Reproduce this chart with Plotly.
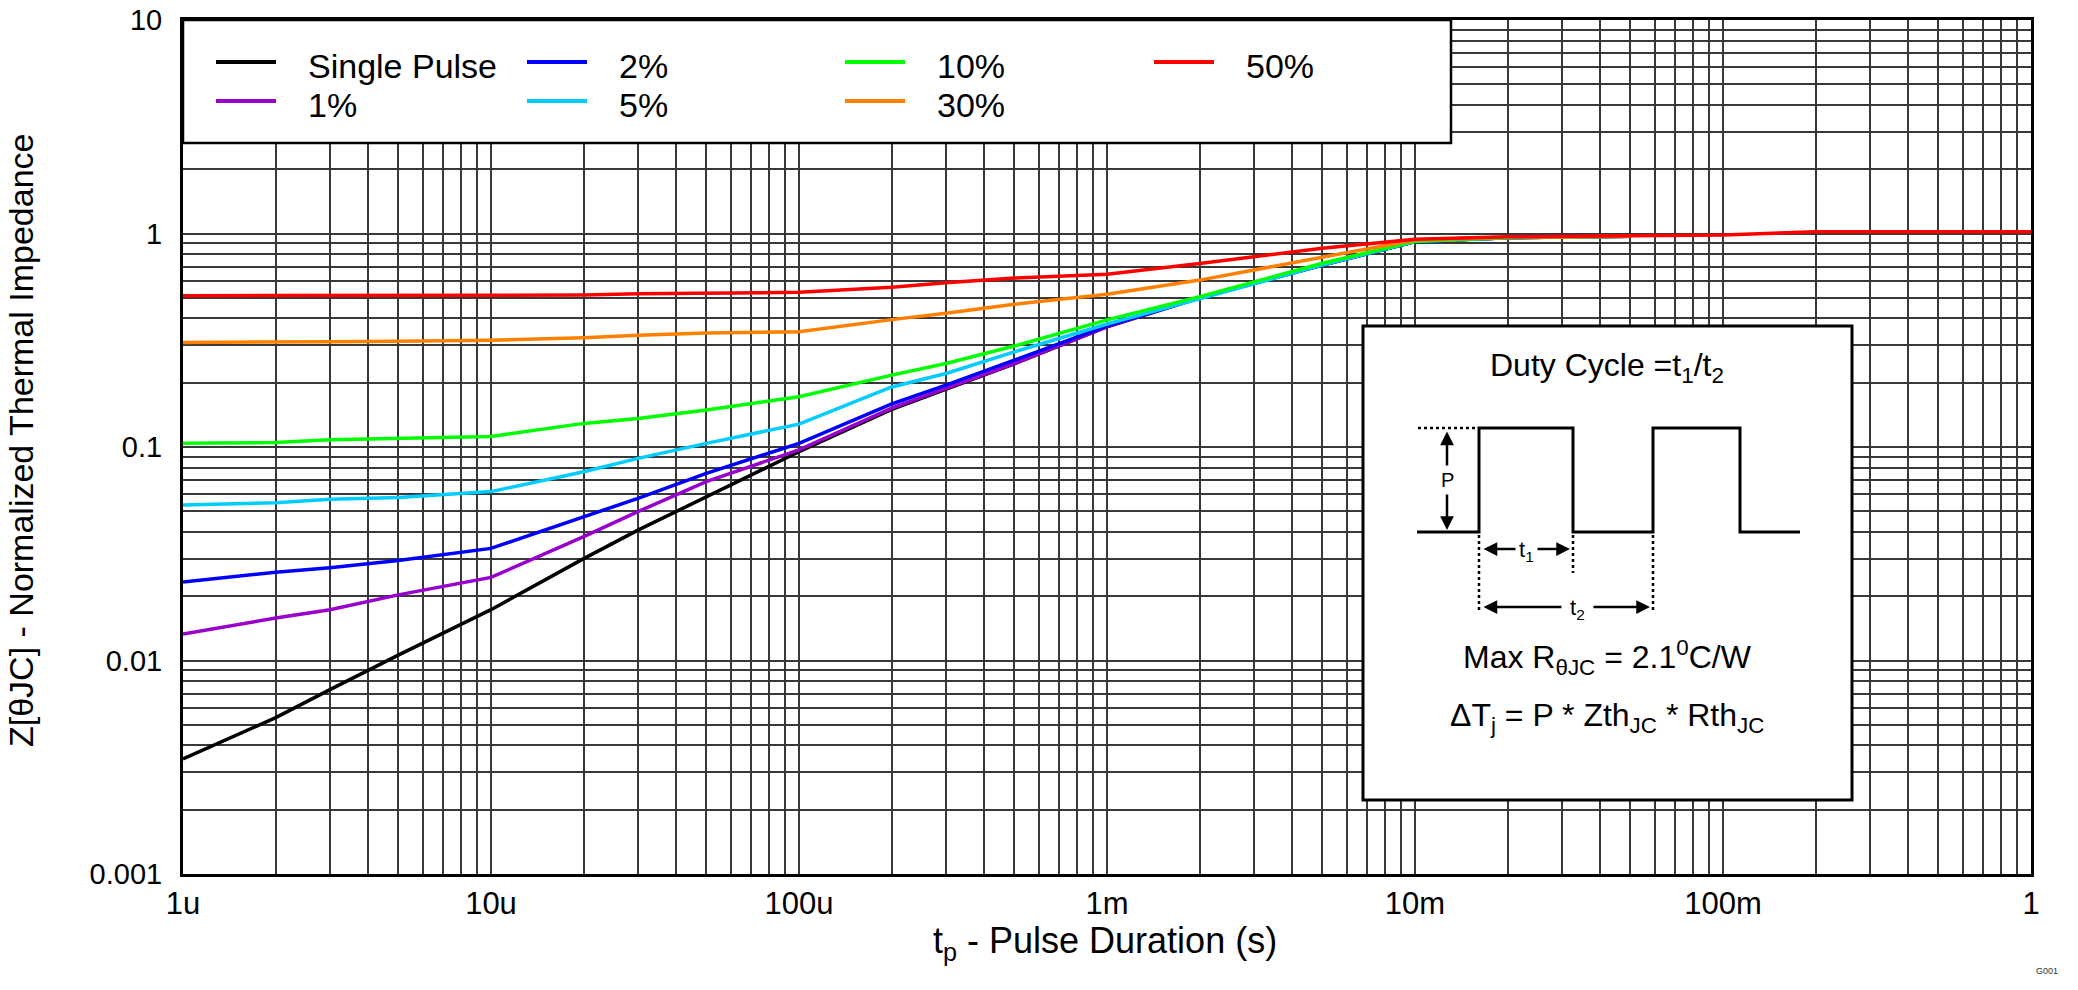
import plotly.graph_objects as go

# ---------------- data ----------------
t_s = [1e-6, 2e-6, 3e-6, 5e-6, 1e-5, 2e-5, 3e-5, 5e-5, 1e-4, 2e-4, 3e-4, 5e-4,
       1e-3, 2e-3, 3e-3, 5e-3, 1e-2, 2e-2, 5e-2]
t_red = t_s + [1e-1, 2e-1, 1.0]

z_single = [0.00346, 0.0054, 0.0073, 0.0106, 0.0173, 0.030, 0.0408, 0.0585, 0.095, 0.150, 0.186, 0.245,
            0.365, 0.50, 0.585, 0.711, 0.917, 0.955, 0.97]
z_1 = [0.0133, 0.0158, 0.0173, 0.0203, 0.0245, 0.038, 0.0498, 0.0689, 0.097, 0.152, 0.188, 0.246,
       0.366, 0.50, 0.585, 0.711, 0.917, 0.955, 0.97]
z_2 = [0.0233, 0.0259, 0.0272, 0.0294, 0.0335, 0.0472, 0.0575, 0.0753, 0.104, 0.159, 0.195, 0.255,
       0.369, 0.50, 0.585, 0.711, 0.917, 0.955, 0.97]
z_5 = [0.0535, 0.0548, 0.0569, 0.058, 0.0618, 0.0766, 0.0885, 0.104, 0.128, 0.191, 0.221, 0.279,
       0.377, 0.497, 0.585, 0.711, 0.917, 0.955, 0.97]
z_10 = [0.104, 0.105, 0.108, 0.110, 0.112, 0.129, 0.136, 0.149, 0.172, 0.217, 0.246, 0.297,
        0.394, 0.506, 0.594, 0.725, 0.92, 0.955, 0.97]
z_30 = [0.309, 0.309, 0.311, 0.313, 0.316, 0.325, 0.334, 0.342, 0.347, 0.395, 0.423, 0.466,
        0.519, 0.605, 0.675, 0.778, 0.933, 0.96, 0.972]
z_50 = [0.511, 0.511, 0.511, 0.511, 0.512, 0.515, 0.522, 0.525, 0.53, 0.56, 0.588, 0.618,
        0.645, 0.724, 0.778, 0.853, 0.94, 0.965, 0.975, 0.985, 1.02, 1.02]

series_names = ["Single Pulse", "1%", "2%", "5%", "10%", "30%", "50%"]
series_colors = ["#000000", "#9900CC", "#0000FF", "#00CCFF", "#00FF00", "#FF7F00", "#FF0000"]
series_x = [t_s, t_s, t_s, t_s, t_s, t_s, t_red]
series_y = [z_single, z_1, z_2, z_5, z_10, z_30, z_50]

x_decades = [1e-6, 1e-5, 1e-4, 1e-3, 1e-2, 1e-1, 1.0]
x_labels = ["1u", "10u", "100u", "1m", "10m", "100m", "1"]
y_decades = [0.001, 0.01, 0.1, 1, 10]
y_labels = ["0.001", "0.01", "0.1", "1", "10"]

# legend layout (rows as in the reference)
legend_rows = [["Single Pulse", "2%", "10%", "50%"], ["1%", "5%", "30%"]]

# ---------------- geometry (page pixels) ----------------
OFF = 8                      # default body margin of the html page
W, H = 2078 - 2 * OFF, 990 - 2 * OFF
L, R, T, B = 183, 2031, 20, 874
FONT = "Liberation Sans, Arial, sans-serif"


def px(x):
    return (x - L) / (R - L)


def py(y):
    return (B - y) / (B - T)


fig = go.Figure()
for name, col, xs, ys in zip(series_names, series_colors, series_x, series_y):
    fig.add_trace(go.Scatter(x=xs, y=ys, mode="lines", name=name,
                             line=dict(color=col, width=3.5), showlegend=False))


def log_ticks(decades, labels):
    vals, texts = [], []
    for i, (d, lab) in enumerate(zip(decades, labels)):
        vals.append(d)
        texts.append(lab)
        if i < len(decades) - 1:
            for k in range(2, 10):
                vals.append(d * k)
                texts.append("")
    return vals, texts


xv, xt = log_ticks(x_decades, x_labels)
yv, yt = log_ticks(y_decades, y_labels)

grid_col = "#383838"
fig.update_xaxes(type="log", range=[-6, 0], tickvals=xv, ticktext=xt, automargin=False,
                 showgrid=True, gridcolor=grid_col, gridwidth=2,
                 showline=True, linecolor="black", linewidth=3, mirror=True,
                 ticks="", ticklabelstandoff=0, zeroline=False, ticklabeloverflow="allow",
                 tickfont=dict(family=FONT, size=31, color="black"))
fig.update_yaxes(type="log", range=[-3, 1], tickvals=yv, ticktext=yt, automargin=False,
                 showgrid=True, gridcolor=grid_col, gridwidth=2,
                 showline=True, linecolor="black", linewidth=3, mirror=True,
                 ticks="", ticklabelstandoff=12, zeroline=False, ticklabeloverflow="allow",
                 tickfont=dict(family=FONT, size=29, color="black"))

shapes = []
annots = []


def text(x, y, s, size, xanchor="center", **kw):
    d = dict(xref="paper", yref="paper", x=px(x), y=py(y), text=s, showarrow=False,
             xanchor=xanchor, yanchor="middle", font=dict(family=FONT, size=size, color=kw.pop("color", "black")))
    d.update(kw)
    annots.append(d)


# legend box
shapes.append(dict(type="rect", xref="paper", yref="paper", x0=px(L), x1=px(1451), y0=py(143), y1=py(T),
                   fillcolor="white", line=dict(color="black", width=2.5), layer="above"))
col_text_x = [306, 617, 935, 1244]
row_y = [62, 101]
for r, row in enumerate(legend_rows):
    for c, nm in enumerate(row):
        col = series_colors[series_names.index(nm)]
        tx = col_text_x[c]
        shapes.append(dict(type="line", xref="paper", yref="paper", x0=px(tx - 90), x1=px(tx - 30),
                           y0=py(row_y[r]), y1=py(row_y[r]), line=dict(color=col, width=4), layer="above"))
        text(tx, row_y[r] + 4, nm, 34, xanchor="left")

# inset box
shapes.append(dict(type="rect", xref="paper", yref="paper", x0=px(1363), x1=px(1852), y0=py(800), y1=py(326),
                   fillcolor="white", line=dict(color="black", width=3), layer="above"))
wx = [1417, 1479, 1479, 1573, 1573, 1653, 1653, 1740, 1740, 1800]
wy = [532, 532, 428, 428, 532, 532, 428, 428, 532, 532]
path = "M " + " L ".join(f"{px(a):.5f},{py(b):.5f}" for a, b in zip(wx, wy))
shapes.append(dict(type="path", xref="paper", yref="paper", path=path,
                   line=dict(color="black", width=3), layer="above"))
for (x0, y0, x1, y1) in [(1418, 428, 1476, 428), (1479, 535, 1479, 613), (1573, 535, 1573, 573),
                         (1653, 535, 1653, 610)]:
    shapes.append(dict(type="line", xref="paper", yref="paper", x0=px(x0), y0=py(y0), x1=px(x1), y1=py(y1),
                       line=dict(color="black", width=2.5, dash="dot"), layer="above"))


def arrow(xh, yh, xt_, yt_):
    annots.append(dict(xref="paper", yref="paper", x=px(xh), y=py(yh), ax=xt_ - xh, ay=yt_ - yh,
                       axref="pixel", ayref="pixel", text="", showarrow=True, arrowhead=2,
                       arrowside="end+start", arrowsize=1.1, arrowwidth=2.5, arrowcolor="black"))


arrow(1447, 530, 1447, 430)
arrow(1570, 549, 1482, 549)
arrow(1650, 607, 1482, 607)

text(1447, 480, "P", 20, bgcolor="white", borderpad=3)
text(1526, 551, "t<sub>1</sub>", 22, bgcolor="white", borderpad=3)
text(1577, 609, "t<sub>2</sub>", 22, bgcolor="white", borderpad=8)

text(1607, 367, "Duty Cycle =t<sub>1</sub>/t<sub>2</sub>", 32)
text(1607, 657, "Max R<sub>θJC</sub> = 2.1<sup>0</sup>C/W", 32)
text(1607, 717, "ΔT<sub>j</sub> = P * Zth<sub>JC</sub> * Rth<sub>JC</sub>", 32)

# axis titles
text(1105, 943, "t<sub>p</sub> - Pulse Duration (s)", 36)
text(21, 441, "Z[θJC] - Normalized Thermal Impedance", 34, textangle=-90)
text(2047, 971, "G001", 9, color="#333")

fig.update_layout(width=W, height=H,
                  margin=dict(l=L - OFF, r=(OFF + W) - R, t=T - OFF, b=(OFF + H) - B),
                  paper_bgcolor="white", plot_bgcolor="white", shapes=shapes, annotations=annots,
                  showlegend=False, font=dict(family=FONT))

fig.write_html("out.html")
